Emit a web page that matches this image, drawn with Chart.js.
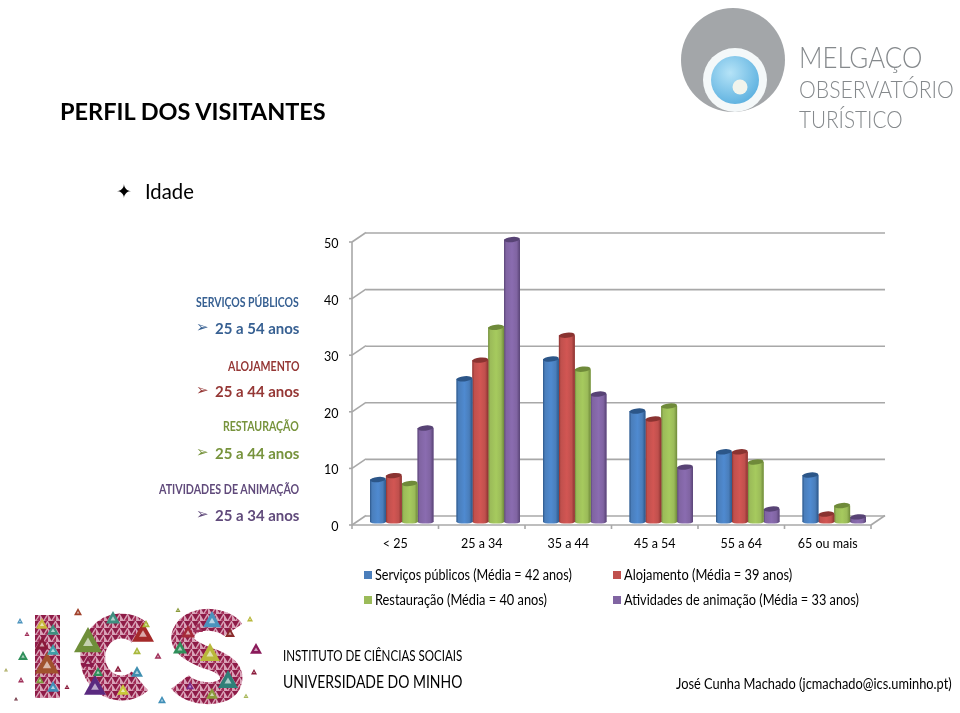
<!DOCTYPE html>
<html lang="pt">
<head>
<meta charset="utf-8">
<title>Perfil dos visitantes</title>
<script src="https://cdn.jsdelivr.net/npm/chart.js@4/dist/chart.umd.js"></script>
<style>
  html, body { margin: 0; background: #fff; }
  body { width: 960px; height: 713px; position: relative; overflow: hidden; font-family: Lato, sans-serif; color: #000; }
  canvas, svg { position: absolute; left: 0; top: 0; }
  .t { position: absolute; white-space: nowrap; line-height: 1; transform-origin: left center; }
  .r { text-align: right; right: 661px; transform-origin: right center; }
  .logo { color: #85898c; font-weight: 300; }
  .sw { position: absolute; width: 8px; height: 8px; }
</style>
</head>
<body>
<canvas id="chart" width="960" height="713"></canvas>
<svg id="logos" width="960" height="713"></svg>

<div class="t" style="left:60px;top:100px;font-size:23.5px;font-weight:700">PERFIL DOS VISITANTES</div>
<div class="t" style="left:116px;top:182px;font-size:19px;font-family:'DejaVu Sans'">✦</div>
<div class="t" data-w="49" style="left:145px;top:181px;font-size:21.5px">Idade</div>

<div id="side"></div>
<div id="legend"></div>

<div class="t logo" data-w="123" style="left:799px;top:41px;font-size:30px">MELGAÇO</div>
<div class="t logo" data-w="155" style="left:799px;top:78px;font-size:23.5px">OBSERVATÓRIO</div>
<div class="t logo" data-w="104" style="left:799px;top:108px;font-size:23.5px">TURÍSTICO</div>

<div class="t" data-w="179" style="left:283px;top:648px;font-size:15px">INSTITUTO DE CIÊNCIAS SOCIAIS</div>
<div class="t" data-w="179" style="left:283px;top:673px;font-size:17px">UNIVERSIDADE DO MINHO</div>
<div class="t" data-w="276" style="left:676px;top:676px;font-size:15.6px">José Cunha Machado (jcmachado@ics.uminho.pt)</div>

<script>
const categories = ['< 25', '25 a 34', '35 a 44', '45 a 54', '55 a 64', '65 ou mais']
const servicos = [7.5, 25.3, 28.8, 19.6, 12.4, 8.3]
const alojamento = [8.2, 28.6, 33, 18.2, 12.4, 1.4]
const restauracao = [6.8, 34.4, 27, 20.5, 10.6, 2.9]
const animacao = [16.6, 49.9, 22.6, 9.7, 2.3, 0.9]
const seriesLabels = [
  'Serviços públicos (Média = 42 anos)',
  'Alojamento (Média = 39 anos)',
  'Restauração (Média = 40 anos)',
  'Atividades de animação (Média = 33 anos)',
]
const yTicks = [0, 10, 20, 30, 40, 50]

const sideTitles = ['SERVIÇOS PÚBLICOS', 'ALOJAMENTO', 'RESTAURAÇÃO', 'ATIVIDADES DE ANIMAÇÃO']
const sideValues = ['25 a 54 anos', '25 a 44 anos', '25 a 44 anos', '25 a 34 anos']

const BASE = ['#4a7ebb', '#c0504d', '#9bbb59', '#8064a2']
const EDGE = ['#2c5688', '#8a3331', '#6f8a3a', '#584375']
const LIGHT = ['#4f8ad0', '#d25653', '#a6ca5e', '#8a6cb0']
const SIDE_TEXT = ['#376092', '#953735', '#77933c', '#604a7b']
const GRID = '#a8a8a8'

// the "3D" room is the scale shifted a few pixels: front edge and back wall
const FRONT_DY = 3
const BACK_DY = -6
const ROOM_DX = 14
const ROOM_DY = 9.5
const AXIS_SHIFT = 6.5

const room = {
  id: 'room',
  beforeDatasetsDraw(chart) {
    const { ctx, scales: { x, y } } = chart
    const band = x.getPixelForValue(1) - x.getPixelForValue(0)
    const left = x.getPixelForValue(0) - band / 2 - AXIS_SHIFT
    const right = left + band * categories.length
    ctx.save()
    ctx.strokeStyle = GRID
    ctx.lineWidth = 1.6
    const seg = (x1, y1, x2, y2) => {
      ctx.beginPath()
      ctx.moveTo(x1, y1)
      ctx.lineTo(x2, y2)
      ctx.stroke()
    }
    yTicks.forEach(v => {
      const py = y.getPixelForValue(v)
      seg(left - 3, py + FRONT_DY, left, py + FRONT_DY)
      seg(left, py + FRONT_DY, left + ROOM_DX, py + FRONT_DY - ROOM_DY)
      seg(left + ROOM_DX, py + BACK_DY, right + ROOM_DX, py + BACK_DY)
    })
    const zero = y.getPixelForValue(0) + FRONT_DY
    seg(left, y.getPixelForValue(50) + FRONT_DY, left, zero)
    seg(left, zero, right, zero)
    seg(right, zero, right + ROOM_DX, zero - ROOM_DY)
    categories.concat('').forEach((c, i) => seg(left + band * i, zero, left + band * i, zero + 4))
    ctx.restore()
  },
  afterDatasetDraw(chart, args) {
    const { ctx } = chart
    const i = args.index
    chart.getDatasetMeta(i).data.forEach(bar => {
      const l = bar.x - bar.width / 2
      const r = bar.x + bar.width / 2
      const g = ctx.createLinearGradient(l, 0, r, 0)
      g.addColorStop(0, EDGE[i])
      g.addColorStop(0.12, BASE[i])
      g.addColorStop(0.5, LIGHT[i])
      g.addColorStop(0.8, BASE[i])
      g.addColorStop(1, EDGE[i])
      ctx.save()
      ctx.fillStyle = g
      ctx.fillRect(l, bar.y, bar.width, bar.base - bar.y)
      ctx.beginPath()
      ctx.ellipse(bar.x, bar.base, bar.width / 2, 1.6, 0, 0, Math.PI * 2)
      ctx.fill()
      ctx.fillStyle = EDGE[i]
      ctx.beginPath()
      ctx.ellipse(bar.x, bar.y, bar.width / 2, 2.6, -0.1, 0, Math.PI * 2)
      ctx.fill()
      ctx.restore()
    })
  },
}

new Chart(document.getElementById('chart'), {
  type: 'bar',
  data: {
    labels: categories,
    datasets: [servicos, alojamento, restauracao, animacao].map((data, i) => ({
      label: seriesLabels[i],
      data,
      backgroundColor: BASE[i],
      categoryPercentage: 0.733,
      barPercentage: 1,
    })),
  },
  options: {
    responsive: false,
    animation: false,
    layout: { padding: { top: 239, right: 82.5, left: 0, bottom: 0 } },
    plugins: { legend: { display: false }, tooltip: { enabled: false } },
    scales: {
      x: {
        grid: { display: false },
        border: { display: false },
        afterFit: s => { s.height = 191 },
        ticks: {
          color: '#000',
          font: { family: 'Lato', size: 12.5 },
          padding: 6,
          labelOffset: -AXIS_SHIFT,
          autoSkip: false,
          maxRotation: 0,
        },
      },
      y: {
        min: 0,
        max: 50,
        grid: { display: false },
        border: { display: false },
        afterFit: s => { s.width = 358.5 },
        ticks: {
          stepSize: 10,
          color: '#000',
          font: { family: 'Lato', size: 12.5 },
          padding: 12,
          labelOffset: 5,
        },
      },
    },
  },
  plugins: [room],
})

// left hand summary
const side = document.getElementById('side')
const sideTop = [297, 361, 421, 484]
const valueTop = [321, 384, 446, 508]
const sideWidth = [103, 71, 76, 140]
sideTitles.forEach((title, i) => {
  side.insertAdjacentHTML('beforeend',
    `<div class="t r" data-w="${sideWidth[i]}" style="top:${sideTop[i]}px;font-size:12.5px;font-weight:700;color:${SIDE_TEXT[i]}">${title}</div>` +
    `<div class="t" style="left:196px;top:${valueTop[i] - 1}px;font-size:15px;color:${SIDE_TEXT[i]};font-family:'DejaVu Sans'">➢</div>` +
    `<div class="t r" data-w="84" style="top:${valueTop[i]}px;font-size:15.5px;font-weight:700;color:${SIDE_TEXT[i]}">${sideValues[i]}</div>`)
})

// legend, two by two
const legend = document.getElementById('legend')
const legendX = [364, 613, 364, 613]
const legendY = [575, 575, 600, 600]
const legendWidth = [197, 168, 172, 235]
seriesLabels.forEach((label, i) => {
  legend.insertAdjacentHTML('beforeend',
    `<div class="sw" style="left:${legendX[i]}px;top:${legendY[i] - 4}px;background:${BASE[i]}"></div>` +
    `<div class="t" data-w="${legendWidth[i]}" style="left:${legendX[i] + 11}px;top:${legendY[i] - 7}px;font-size:14.6px">${label}</div>`)
})

// squeeze Lato to the Calibri widths of the original
document.querySelectorAll('[data-w]').forEach(el => {
  el.style.transform = `scaleX(${el.dataset.w / el.offsetWidth})`
})

// logos (pictures in the original)
const tri = (cx, cy, s, c) => {
  const p = [[cx, cy - s], [cx + s, cy + s * 0.8], [cx - s, cy + s * 0.8]].map(q => q.join(',')).join(' ')
  const q = [[cx, cy - s * 0.25], [cx + s * 0.35, cy + s * 0.35], [cx - s * 0.35, cy + s * 0.35]].map(q => q.join(',')).join(' ')
  return `<polygon points="${p}" fill="${c}"/><polygon points="${q}" fill="#fff" opacity=".6"/>`
}
const bigPieces = [
  [88, 41, 14, '#6f8f3a'], [143, 33, 11, '#a52a2a'], [113, 18, 7, '#3f8f80'], [212, 20, 9, '#4b93bd'],
  [210, 53, 10, '#b9b93a'], [95, 86, 11, '#5a2a80'], [47, 64, 12, '#a0522d'], [228, 80, 10, '#2f7f78'],
  [42, 24, 6, '#c8b83a'], [53, 30, 6, '#3f8f80'], [53, 50, 6, '#3f9fa8'], [53, 87, 6, '#3f8fb8'], [180, 48, 7, '#2f8f5a'],
  [123, 90, 6, '#c8c83a'], [137, 72, 6, '#3f8fb0'], [98, 72, 5, '#2f8f5a'], [212, 94, 6, '#8a9a3a'],
  [188, 32, 7, '#a52a3a'], [230, 33, 5, '#8a2a2a'], [40, 80, 4, '#7a9a3a'], [146, 24, 4, '#a8b83a'],
  [42, 44, 7, '#8a1a3a'], [88, 62, 6, '#8a1a4a'], [198, 28, 5, '#a0305a'], [190, 86, 4, '#7a2a8a'],
]
const specks = [
  [20, 21, 3, '#4b93bd'], [27, 34, 2.5, '#a0305a'], [23, 56, 5, '#2f8f5a'], [6, 70, 2, '#a8a85a'], [21, 80, 3, '#a0305a'],
  [78, 12, 4, '#a0402a'], [137, 51, 4, '#a8b83a'], [158, 56, 3.5, '#a0305a'], [118, 69, 3.5, '#8a1a3a'],
  [162, 100, 4, '#3f8fb8'], [178, 10, 2.5, '#8a9a3a'], [250, 19, 3, '#b8b83a'], [256, 49, 6, '#8a1a5a'],
  [254, 72, 3, '#8a1a3a'], [246, 96, 2.5, '#a8b85a'], [67, 87, 2.5, '#8a1a3a'], [16, 99, 2, '#6a2a3a'],
]
document.getElementById('logos').innerHTML = `
  <defs>
    <pattern id="mosaic" width="8" height="7" patternUnits="userSpaceOnUse">
      <rect width="8" height="7" fill="#d9a3b8"/>
      <polygon points="0,0 7,0 3.5,6" fill="#8e1b47"/>
      <polygon points="4.5,6.5 8,1.5 8,7" fill="#a12a55"/>
    </pattern>
    <radialGradient id="lens" cx="0.4" cy="0.35" r="0.8">
      <stop offset="0" stop-color="#b5e3f7"/><stop offset="1" stop-color="#4fa9dc"/>
    </radialGradient>
  </defs>
  <circle cx="733" cy="60" r="52" fill="#a3a6a9"/>
  <circle cx="735" cy="80" r="32" fill="#f4f8f9"/>
  <circle cx="735" cy="80" r="24" fill="url(#lens)"/>
  <circle cx="740" cy="87" r="7.5" fill="#f2f4ec"/>
  <g transform="translate(0,600)">
    <rect x="35" y="15" width="25" height="83" fill="url(#mosaic)"/>
    <path d="M140 33 A29 31 0 1 0 140 81" fill="none" stroke="url(#mosaic)" stroke-width="25"/>
    <path d="M233 30 C225 18 195 15 185 30 C175 45 195 53 207 58 C225 63 235 72 230 84 C222 98 190 95 180 82"
      fill="none" stroke="url(#mosaic)" stroke-width="22"/>
    ${bigPieces.concat(specks).map(p => tri(...p)).join('')}
  </g>`
</script>
</body>
</html>
